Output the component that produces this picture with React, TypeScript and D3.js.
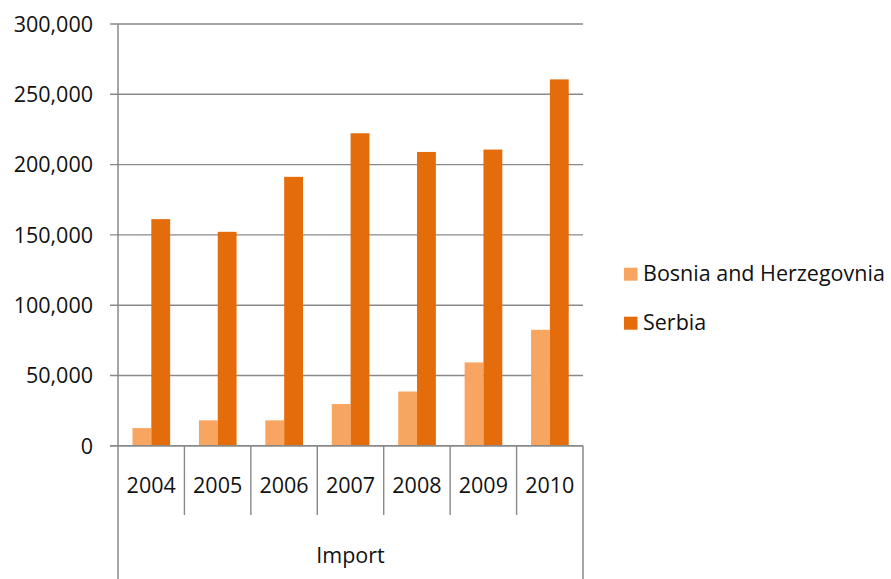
import React from "react";
import * as d3 from "d3";

const years = ["2004", "2005", "2006", "2007", "2008", "2009", "2010"];
const seriesNames = ["Bosnia and Herzegovnia", "Serbia"];
const bosnia = [12600, 18100, 18100, 29700, 38600, 59300, 82500];
const serbia = [161200, 152200, 191300, 222300, 209000, 210700, 260600];
const yTicks = [0, 50000, 100000, 150000, 200000, 250000, 300000];
const groupLabel = "Import";
const colors = ["#F8A562", "#E46C0A"];

export default function App() {
  const W = 891;
  const H = 579;
  const left = 118;
  const right = 583;
  const top = 24;
  const zero = 445.8;
  const font = "'Open Sans', Lato, sans-serif";
  const grid = "#898989";
  const fs = 21.5;

  const x = d3.scaleBand<string>().domain(years).range([left, right]).padding(0);
  const y = d3.scaleLinear().domain([0, 300000]).range([zero, top]);
  const bw = x.bandwidth();
  const inner = d3
    .scaleBand<string>()
    .domain(seriesNames)
    .range([bw * 0.218, bw * 0.785])
    .padding(0);
  const data = [bosnia, serbia];
  const fmt = d3.format(",");

  return (
    <svg
      width={W}
      height={H}
      style={{ position: "absolute", left: 0, top: 0, background: "#fff" }}
      fontFamily={font}
    >
      {yTicks.map((t) => (
        <g key={t}>
          <line x1={110} x2={right} y1={y(t)} y2={y(t)} stroke={grid} strokeWidth={1.4} />
          <text x={93} y={y(t) + 7.8} textAnchor="end" fontSize={fs} fill="#111">
            {fmt(t)}
          </text>
        </g>
      ))}
      {years.map((yr, i) =>
        data.map((arr, s) => (
          <rect
            key={yr + s}
            x={(x(yr) as number) + (inner(seriesNames[s]) as number)}
            width={inner.bandwidth()}
            y={y(arr[i])}
            height={zero - y(arr[i])}
            fill={colors[s]}
          />
        ))
      )}
      <line x1={left} x2={left} y1={top} y2={H} stroke={grid} strokeWidth={1.5} />
      <line x1={right} x2={right} y1={zero} y2={H} stroke={grid} strokeWidth={1.5} />
      <line x1={110} x2={right} y1={zero} y2={zero} stroke={grid} strokeWidth={1.5} />
      {years.slice(1).map((yr) => (
        <line
          key={"sep" + yr}
          x1={x(yr) as number}
          x2={x(yr) as number}
          y1={zero}
          y2={515}
          stroke={grid}
          strokeWidth={1.4}
        />
      ))}
      {years.map((yr) => (
        <text
          key={"lbl" + yr}
          x={(x(yr) as number) + bw / 2}
          y={493}
          textAnchor="middle"
          fontSize={fs}
          fill="#111"
        >
          {yr}
        </text>
      ))}
      <text x={(left + right) / 2} y={563} textAnchor="middle" fontSize={fs} fill="#111">
        {groupLabel}
      </text>
      {seriesNames.map((n, i) => (
        <g key={n}>
          <rect x={624} y={267.7 + i * 49} width={13.5} height={13} fill={colors[i]} />
          <text x={643} y={281 + i * 49} fontSize={fs} fill="#111">
            {n}
          </text>
        </g>
      ))}
    </svg>
  );
}
